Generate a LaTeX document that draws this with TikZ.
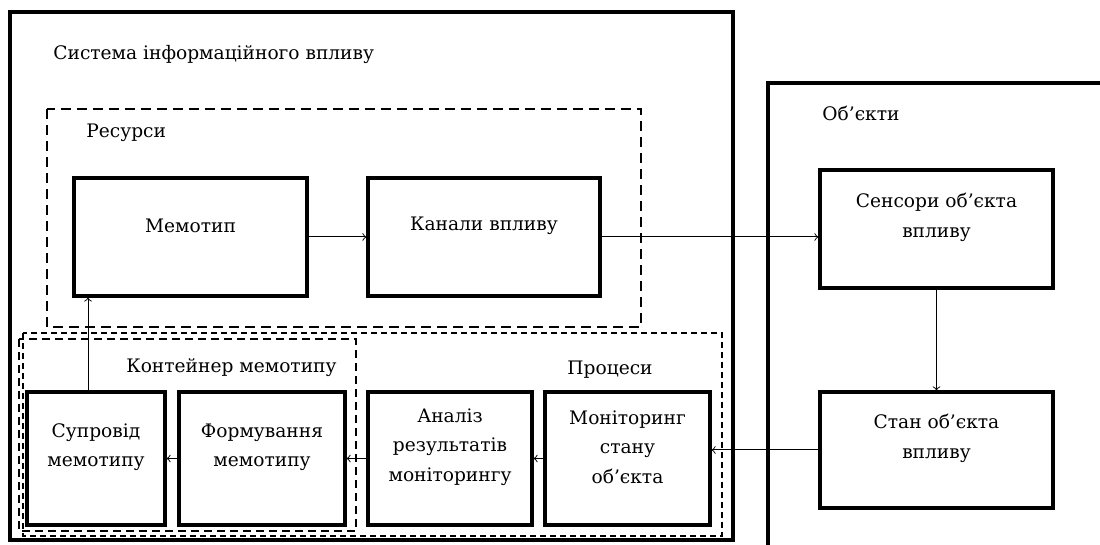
\documentclass[tikz,border=0pt]{standalone}
\usepackage{fontspec}
\setmainfont{DejaVu Serif}

\begin{document}
\begin{tikzpicture}[
		x=0.5pt, y=-0.5pt, font=\fontsize{9.3}{14.7}\selectfont,
		frame/.style={line width=2pt},
		box/.style 2 args={draw, line width=1.6pt, inner sep=0pt, minimum width=#1, minimum height=#2},
		txt/.style={align=center, inner sep=0pt, yshift=5.75pt},
		head/.style={anchor=west, inner sep=0pt},
		conn/.style={->, line width=0.5pt},
		group/.style={line width=0.9pt, dash pattern=on 5pt off 3pt}
	]
	\useasboundingbox (0,0) rectangle (1100,545);
	\draw[frame] (10,12) rectangle (733,540);
	\draw[frame] (1100,83) -- (768,83) -- (768,545);
	\draw[group] (47,109) rectangle (641,327);
	\draw[line width=0.6pt, dash pattern=on 3pt off 2pt] (23,333) rectangle (722,536);
	\draw[group, dash pattern=on 4pt off 2.5pt] (19,339) rectangle (356,531);

	\node[head] (sys-t) at (53,55) {Система інформаційного впливу};
	\node[head] (res-t) at (86,133) {Ресурси};
	\node[head] (obj-t) at (822,113) {Об’єкти};
	\node[head] (cont-t) at (126,368) {Контейнер мемотипу};
	\node[head, anchor=east] (proc-t) at (653,370) {Процеси};

	\node[box={116.5pt}{59pt}] (memo) at (190.5,237) {};
	\node[box={116pt}{59pt}] (kan) at (484,237) {};
	\node[box={116.5pt}{59pt}] (sens) at (936.5,229) {};
	\node[box={116.5pt}{58pt}] (stan) at (936.5,450) {};
	\node[box={69pt}{66.5pt}] (sup) at (96,458.5) {};
	\node[box={83pt}{66.5pt}] (form) at (262,458.5) {};
	\node[box={82pt}{66.5pt}] (anal) at (450,458.5) {};
	\node[box={82.5pt}{66.5pt}] (mon) at (627.5,458.5) {};

	\node[txt] (memo-t) at (memo) {Мемотип};
	\node[txt] (kan-t) at (kan) {Канали впливу};
	\node[txt] (sens-t) at (sens) {Сенсори об’єкта\\впливу};
	\node[txt] (stan-t) at (stan) {Стан об’єкта\\впливу};
	\node[txt] (sup-t) at (sup) {Супровід\\мемотипу};
	\node[txt] (form-t) at (form) {Формування\\мемотипу};
	\node[txt] (anal-t) at (anal) {Аналіз\\результатів\\моніторингу};
	\node[txt] (mon-t) at (mon) {Моніторинг\\стану\\об’єкта};

	\draw[conn] (memo) -- (kan);
	\draw[conn] (kan.east) -- (kan.east -| sens.west);
	\draw[conn] (sens) -- (stan);
	\draw[conn] (stan.west) -- (stan.west -| mon.east);
	\draw[conn] (mon) -- (anal);
	\draw[conn] (anal) -- (form);
	\draw[conn] (form) -- (sup);
	\draw[conn] ([xshift=-4pt]sup.north) -- ([xshift=-4pt]sup.north |- memo.south);
\end{tikzpicture}
\end{document}
